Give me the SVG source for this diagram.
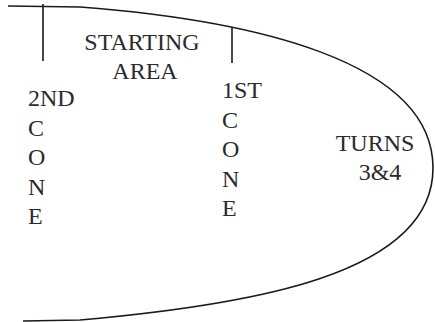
<svg xmlns="http://www.w3.org/2000/svg" width="435" height="322" viewBox="0 0 435 322">
<style>
.ln{fill:none;stroke:#1a1a1a;stroke-width:1.6}
.t{font-family:"Liberation Serif","Times New Roman",serif;font-size:24px;fill:#2b2b2b}
</style>
<rect width="435" height="322" fill="#fff"/>
<g id="track">
<path class="ln" d="M 8 6 L 80 7 C 250 20 433 60 433 168 C 433 275 250 305 80 320 L 23 321"/>
</g>
<g id="second-cone">
<line class="ln" x1="43" y1="4" x2="43" y2="61"/>
<text class="t" x="28" y="106">2ND</text>
<text class="t" x="28" y="135.5">C</text>
<text class="t" x="28" y="165">O</text>
<text class="t" x="28" y="194.5">N</text>
<text class="t" x="28" y="224">E</text>
</g>
<g id="starting-area">
<text class="t" x="142" y="50" text-anchor="middle">STARTING</text>
<text class="t" x="145" y="79" text-anchor="middle">AREA</text>
</g>
<g id="first-cone">
<line class="ln" x1="232" y1="27" x2="232" y2="63"/>
<text class="t" x="222" y="98">1ST</text>
<text class="t" x="222" y="127.5">C</text>
<text class="t" x="222" y="157">O</text>
<text class="t" x="222" y="186.5">N</text>
<text class="t" x="222" y="216">E</text>
</g>
<g id="turns">
<text class="t" x="375" y="151" text-anchor="middle">TURNS</text>
<text class="t" x="380" y="180" text-anchor="middle">3&amp;4</text>
</g>
</svg>
